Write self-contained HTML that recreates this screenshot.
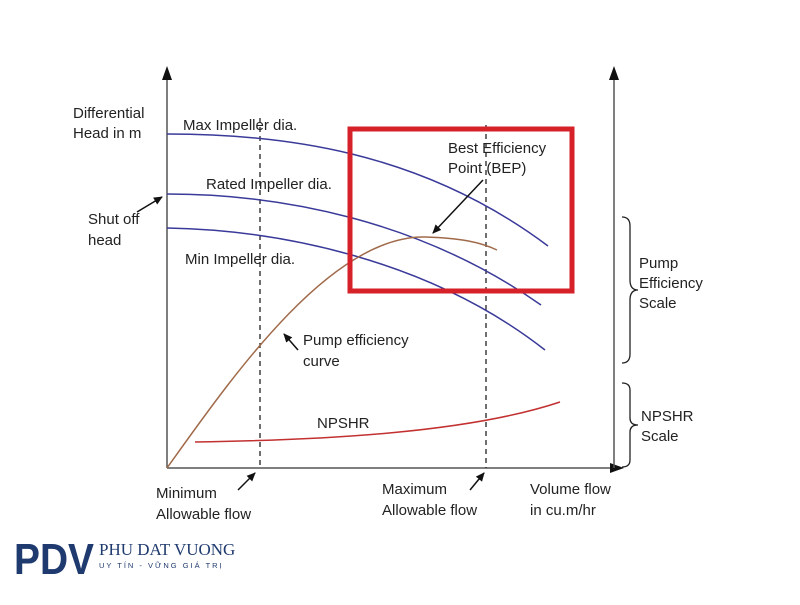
<!DOCTYPE html>
<html><head><style>
body{margin:0;background:#fff}
svg text{font-family:"Liberation Sans",sans-serif;font-size:15px;fill:#222}
</style></head><body>
<svg width="800" height="600" viewBox="0 0 800 600" xmlns="http://www.w3.org/2000/svg">
<defs><marker id="a" markerWidth="10" markerHeight="10" refX="8" refY="5" orient="auto" markerUnits="userSpaceOnUse"><path d="M0,1 L9,5 L0,9 z" fill="#111"/></marker></defs>
<line x1="167" y1="468" x2="167" y2="72" stroke="#555" stroke-width="1.5"/>
<path d="M162,80 L167,66 L172,80 z" fill="#111"/>
<line x1="167" y1="468" x2="616" y2="468" stroke="#555" stroke-width="1.5"/>
<path d="M610,463 L624,468 L610,473 z" fill="#111"/>
<line x1="614" y1="468" x2="614" y2="72" stroke="#555" stroke-width="1.5"/>
<path d="M609,80 L614,66 L619,80 z" fill="#111"/>
<line x1="260" y1="118" x2="260" y2="468" stroke="#222" stroke-width="1.3" stroke-dasharray="5,4"/>
<line x1="486" y1="125" x2="486" y2="468" stroke="#222" stroke-width="1.3" stroke-dasharray="5,4"/>
<g fill="none" stroke="#3a3a9a" stroke-width="1.5">
<path d="M167,134 C280,134 420,150 548,246"/>
<path d="M167,194 C280,194 420,220 541,305"/>
<path d="M167,228 C280,230 430,260 545,350"/>
</g>
<path d="M167,468 C230,380 330,235 425,237 C460,238 480,242 497,250" fill="none" stroke="#a06a4a" stroke-width="1.5"/>
<path d="M195,442 C330,440 470,432 560,402" fill="none" stroke="#c23030" stroke-width="1.5"/>
<rect x="350" y="129" width="222" height="162" fill="none" stroke="#d62128" stroke-width="5"/>
<line x1="483" y1="180" x2="433" y2="233" stroke="#111" stroke-width="1.5" marker-end="url(#a)"/>
<line x1="137" y1="212" x2="162" y2="197" stroke="#111" stroke-width="1.5" marker-end="url(#a)"/>
<line x1="298" y1="350" x2="284" y2="334" stroke="#111" stroke-width="1.5" marker-end="url(#a)"/>
<line x1="238" y1="490" x2="255" y2="473" stroke="#111" stroke-width="1.5" marker-end="url(#a)"/>
<line x1="470" y1="490" x2="484" y2="473" stroke="#111" stroke-width="1.5" marker-end="url(#a)"/>
<path d="M622,217 Q630,217 630,226 L630,280 Q630,290 638,290 Q630,290 630,300 L630,354 Q630,363 622,363" fill="none" stroke="#222" stroke-width="1.3"/>
<path d="M622,383 Q630,383 630,390 L630,418 Q630,425 638,425 Q630,425 630,432 L630,460 Q630,467 622,467" fill="none" stroke="#222" stroke-width="1.3"/>
<text x="73" y="118">Differential</text>
<text x="73" y="138">Head in m</text>
<text x="183" y="130">Max Impeller dia.</text>
<text x="206" y="189">Rated Impeller dia.</text>
<text x="88" y="224">Shut off</text>
<text x="88" y="245">head</text>
<text x="185" y="264">Min Impeller dia.</text>
<text x="448" y="153">Best Efficiency</text>
<text x="448" y="173">Point (BEP)</text>
<text x="303" y="345">Pump efficiency</text>
<text x="303" y="366">curve</text>
<text x="317" y="428">NPSHR</text>
<text x="639" y="268">Pump</text>
<text x="639" y="288">Efficiency</text>
<text x="639" y="308">Scale</text>
<text x="641" y="421">NPSHR</text>
<text x="641" y="441">Scale</text>
<text x="156" y="498">Minimum</text>
<text x="156" y="519">Allowable flow</text>
<text x="382" y="494">Maximum</text>
<text x="382" y="515">Allowable flow</text>
<text x="530" y="494">Volume flow</text>
<text x="530" y="515">in cu.m/hr</text>
<text x="14" y="574" textLength="80" lengthAdjust="spacingAndGlyphs" style="font-family:'Liberation Sans',sans-serif;font-weight:bold;font-size:44px;fill:#1f3a6e">PDV</text>
<text x="99" y="555" style="font-family:'Liberation Serif',serif;font-size:17px;fill:#1f3a6e">PHU DAT VUONG</text>
<text x="99" y="568" style="font-size:7.5px;fill:#1f3a6e;letter-spacing:2px">UY TÍN - VỮNG GIÁ TRỊ</text>
</svg>
</body></html>
